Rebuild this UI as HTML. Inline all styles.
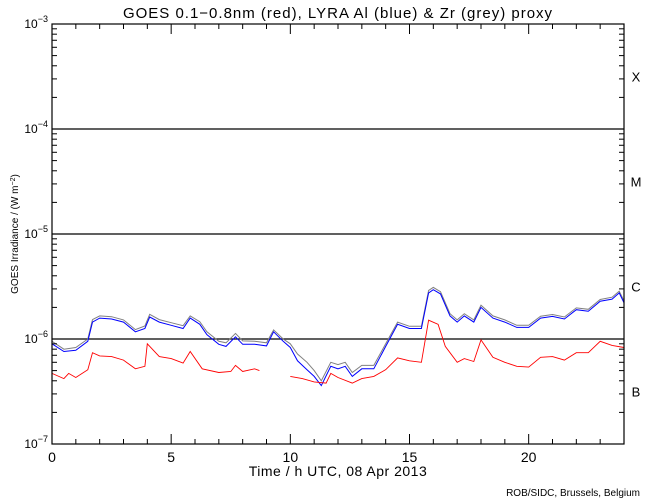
<!DOCTYPE html>
<html><head><meta charset="utf-8"><style>
body{margin:0;background:#fff;}
svg{display:block;font-family:"Liberation Sans",sans-serif;}
</style></head><body>
<svg id="chart" width="650" height="500" viewBox="0 0 650 500">
<rect width="650" height="500" fill="#fff"/>
<text x="338" y="18" text-anchor="middle" font-size="15" letter-spacing="1">GOES 0.1−0.8nm (red), LYRA Al (blue) &amp; Zr (grey) proxy</text>
<text transform="translate(18,234) rotate(-90)" text-anchor="middle" font-size="10">GOES Irradiance / (W m<tspan baseline-shift="super" font-size="7">−2</tspan>)</text>
<text x="338" y="476" text-anchor="middle" font-size="14" letter-spacing="0.5">Time / h UTC, 08 Apr 2013</text>
<text x="640" y="496" text-anchor="end" font-size="10">ROB/SIDC, Brussels, Belgium</text>
<g id="grid"></g><g id="series"></g><g id="axes"></g>
</svg>
<script>
const hoursAl=[0,0.5,1,1.5,1.7,2,2.5,3,3.5,3.9,4.1,4.5,5,5.5,5.8,6.2,6.5,7,7.3,7.7,8,8.5,9,9.3,9.7,10,10.3,10.7,11,11.3,11.7,12,12.3,12.6,13,13.5,14,14.5,15,15.5,15.8,16,16.3,16.7,17,17.3,17.7,18,18.5,19,19.5,20,20.5,21,21.5,22,22.5,23,23.5,23.8,24];
const alValues=[0.90,0.76,0.78,0.95,1.45,1.58,1.55,1.45,1.17,1.26,1.62,1.45,1.35,1.26,1.58,1.38,1.10,0.89,0.85,1.05,0.89,0.89,0.86,1.17,0.95,0.83,0.62,0.51,0.44,0.36,0.55,0.52,0.55,0.44,0.52,0.52,0.85,1.38,1.26,1.26,2.75,2.95,2.69,1.66,1.45,1.66,1.45,2.0,1.58,1.45,1.29,1.29,1.58,1.64,1.55,1.9,1.84,2.29,2.4,2.75,2.21];
const zrValues=[0.95,0.80,0.83,1.0,1.53,1.66,1.63,1.52,1.23,1.33,1.72,1.53,1.43,1.34,1.66,1.46,1.17,0.95,0.92,1.13,0.96,0.95,0.92,1.22,1.0,0.90,0.72,0.60,0.50,0.40,0.60,0.57,0.60,0.48,0.56,0.56,0.90,1.45,1.32,1.32,2.9,3.1,2.82,1.74,1.52,1.74,1.52,2.1,1.66,1.52,1.35,1.35,1.65,1.71,1.62,1.98,1.92,2.38,2.5,2.85,2.3];
const hoursGoes=[0,0.5,0.7,1,1.5,1.7,2,2.5,3,3.5,3.9,4.0,4.5,5,5.5,5.8,6.3,7,7.5,7.7,8,8.5,8.7,9.5,10,10.5,11,11.5,11.7,12,12.6,13,13.5,14,14.5,15,15.5,15.8,16.2,16.5,17,17.3,17.7,18,18.5,19,19.5,20,20.5,21,21.5,22,22.5,23,23.5,24];
const goesValues=[0.47,0.42,0.47,0.43,0.51,0.74,0.69,0.68,0.63,0.52,0.55,0.90,0.68,0.65,0.59,0.76,0.52,0.48,0.49,0.56,0.49,0.52,0.50,null,0.44,0.42,0.39,0.38,0.47,0.43,0.38,0.42,0.44,0.51,0.66,0.62,0.60,1.51,1.38,0.85,0.60,0.65,0.61,0.98,0.67,0.60,0.55,0.54,0.67,0.68,0.63,0.74,0.74,0.95,0.87,0.83];
const xTicks=[0,5,10,15,20];
const yDecades=[-3,-4,-5,-6,-7];
const classLabels=["X","M","C","B"];

const NS="http://www.w3.org/2000/svg";
const X0=52,X1=624,Y0=24,Y1=444;
const xs=h=>X0+(X1-X0)*h/24;
const ys=v=>Y0+(Y1-Y0)*(-3-Math.log10(v))/4;
function mk(t,a,p){const e=document.createElementNS(NS,t);for(const k in a)e.setAttribute(k,a[k]);p.appendChild(e);return e;}
const grid=document.getElementById('grid'),ser=document.getElementById('series'),ax=document.getElementById('axes');
[-4,-5,-6].forEach(d=>{const l=mk('line',{x1:X0,x2:X1,y1:ys(10**d),y2:ys(10**d),stroke:'#000','stroke-width':1.2},grid);

});
function path(hs,vals,scale){let d='',pen=false;hs.forEach((h,i)=>{const v=vals[i];if(v==null){pen=false;return;}d+=(pen?'L':'M')+xs(h).toFixed(1)+','+ys(v*scale).toFixed(1);pen=true;});return d;}
const pz=mk('path',{d:path(hoursAl,zrValues,1e-6),fill:'none',stroke:'#808080','stroke-width':1},ser);


const pa=mk('path',{d:path(hoursAl,alValues,1e-6),fill:'none',stroke:'#0000ff','stroke-width':1},ser);


const pg=mk('path',{d:path(hoursGoes,goesValues,1e-6),fill:'none',stroke:'#ff0000','stroke-width':0.9},ser);


const fr=mk('rect',{x:X0,y:Y0,width:X1-X0,height:Y1-Y0,fill:'none',stroke:'#000','stroke-width':1.2},ax);


for(let h=0;h<=24;h++){const big=h%5==0,len=big?10:5;
[[Y1,Y1-len],[Y0,Y0+len]].forEach(([a,b])=>{const t=mk('line',{x1:xs(h),x2:xs(h),y1:a,y2:b,stroke:'#000'},ax);

});}
xTicks.forEach(h=>{const t=mk('text',{x:xs(h),y:Y1+18,'text-anchor':'middle','font-size':14},ax);t.textContent=h;

});
for(let d=-7;d<-3;d++)for(let m=1;m<10;m++){const y=ys(m*10**d),len=m==1?10:5;
[[X0,X0+len],[X1,X1-len]].forEach(([a,b])=>{const t=mk('line',{x1:a,x2:b,y1:y,y2:y,stroke:'#000'},ax);

});}
yDecades.forEach(d=>{const t=mk('text',{x:X0-4,y:ys(10**d)+4,'text-anchor':'end','font-size':12},ax);
t.innerHTML='10<tspan dy="-6" font-size="9">'+(d<0?'−':'')+Math.abs(d)+'</tspan>';

});
classLabels.forEach((c,i)=>{const t=mk('text',{x:636,y:ys(10**(-3.5-i))+5,'text-anchor':'middle','font-size':13},ax);t.textContent=c;

});
</script>
</body></html>
